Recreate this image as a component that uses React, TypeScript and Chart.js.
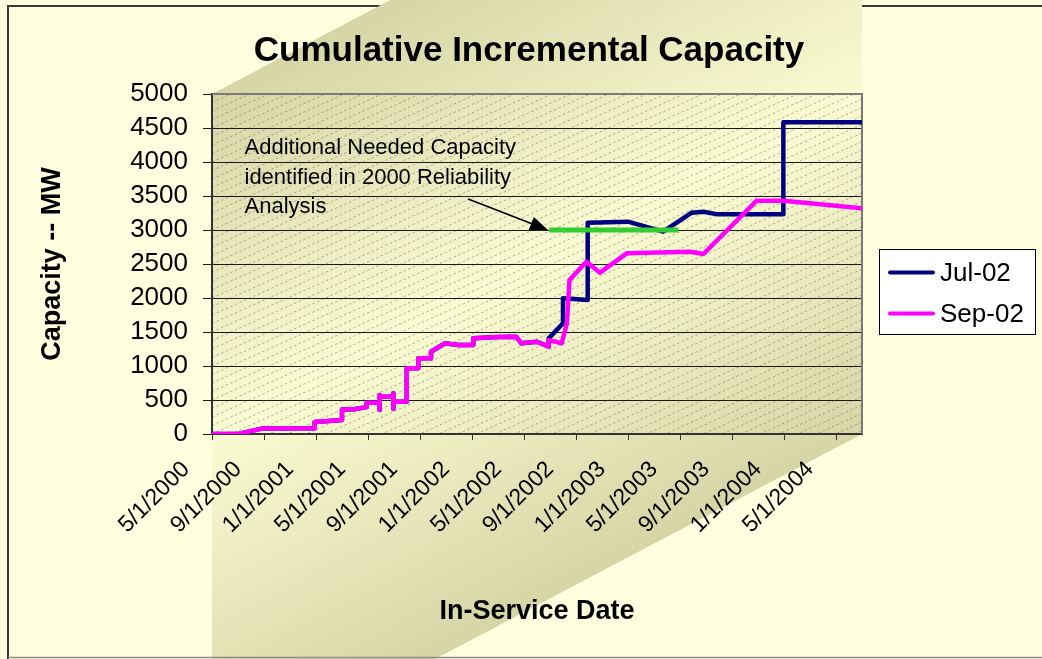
import React, { useEffect, useRef } from 'react';
import { Chart, registerables } from 'chart.js';

Chart.register(...registerables);

const FONT = "'Liberation Sans', Arial, sans-serif";

// x values are months after 5/1/2000
const xTickLabels = [
  '5/1/2000', '9/1/2000', '1/1/2001', '5/1/2001', '9/1/2001', '1/1/2002', '5/1/2002',
  '9/1/2002', '1/1/2003', '5/1/2003', '9/1/2003', '1/1/2004', '5/1/2004',
];
const yTicks = [0, 500, 1000, 1500, 2000, 2500, 3000, 3500, 4000, 4500, 5000];

const seriesNames = ['Jul-02', 'Sep-02'];
const seriesColors = ['#000080', '#FF00FF'];

const julX = [0, 2.1, 3.9, 7.9, 7.9, 10.0, 10.0, 10.9, 11.9, 11.9, 12.9, 12.9, 12.9, 12.95, 13.95, 13.95, 13.95, 14.0, 14.98, 14.98, 15.87, 15.87, 16.85, 16.85, 17.9, 18.95, 20.1, 20.1, 22.0, 23.4, 23.8, 25.0, 25.9, 25.9, 27.0, 27.0, 28.9, 28.9, 32.0, 34.7, 36.9, 37.8, 38.9, 43.95, 43.95, 50];
const julY = [0, 5, 82, 85, 178, 205, 360, 363, 395, 458, 460, 353, 574, 549, 550, 598, 370, 475, 475, 966, 966, 1113, 1113, 1210, 1333, 1309, 1309, 1407, 1425, 1431, 1333, 1357, 1284, 1407, 1628, 1995, 1970, 3108, 3122, 2975, 3254, 3269, 3230, 3230, 4584, 4584];

const sepX = [0, 2.1, 3.9, 7.9, 7.9, 10.0, 10.0, 10.9, 11.9, 11.9, 12.9, 12.9, 12.9, 12.95, 13.95, 13.95, 13.95, 14.0, 14.98, 14.98, 15.87, 15.87, 16.85, 16.85, 17.9, 18.95, 20.1, 20.1, 22.0, 23.4, 23.8, 25.0, 25.9, 25.9, 26.9, 27.3, 27.5, 28.8, 29.85, 31.9, 36.8, 37.8, 41.9, 43.95, 50];
const sepY = [0, 5, 82, 85, 178, 205, 360, 363, 395, 458, 460, 353, 574, 549, 550, 598, 370, 475, 475, 966, 966, 1113, 1113, 1210, 1333, 1309, 1309, 1407, 1425, 1431, 1333, 1357, 1284, 1380, 1334, 1628, 2265, 2534, 2373, 2657, 2681, 2647, 3431, 3431, 3319];

const neededX = [25.95, 35.87];
const neededY = [3000, 3000];

const annotLines = ['Additional Needed Capacity', 'identified in 2000 Reliability', 'Analysis'];
const annotPos = [2.5, 4205];
const arrowFrom = [19.7, 3455];
const arrowTo = [25.85, 3000];

const titleText = 'Cumulative Incremental Capacity';

const toPts = (xs: number[], ys: number[]) => xs.map((x, i) => ({ x, y: ys[i] }));

const decor = {
  id: 'decor',
  beforeDraw(chart: any) {
    const { ctx, chartArea: ca, width, height } = chart;
    const L = ca.left, R = ca.right, T = ca.top, B = ca.bottom;
    ctx.save();
    ctx.fillStyle = '#FFFFE0';
    ctx.fillRect(0, 0, width, height);
    // outer frame (left + top)
    ctx.strokeStyle = '#3a3a3a';
    ctx.lineWidth = 2;
    ctx.beginPath();
    ctx.moveTo(8, height);
    ctx.lineTo(8, 6);
    ctx.lineTo(width, 6);
    ctx.stroke();
    // shaded band
    const s = 0.527;
    ctx.beginPath();
    ctx.moveTo(L, T);
    ctx.lineTo(L + T / s, 0);
    ctx.lineTo(R, 0);
    ctx.lineTo(R, B);
    ctx.lineTo(R - (height - B) / s, height);
    ctx.lineTo(L, height);
    ctx.closePath();
    const nl = Math.sqrt(1 + s * s);
    const nx = s / nl, ny = 1 / nl;
    const dist = nx * (R - L) + ny * (B - T);
    const g = ctx.createLinearGradient(L, T, L + nx * dist, T + ny * dist);
    g.addColorStop(0, '#D6D5A6');
    g.addColorStop(0.5, '#FBFBD3');
    g.addColorStop(1, '#D6D5A6');
    ctx.fillStyle = g;
    ctx.fill();
    // bottom frame line
    ctx.strokeStyle = '#8a8a8a';
    ctx.lineWidth = 1.5;
    ctx.beginPath();
    ctx.moveTo(8, 657.5);
    ctx.lineTo(width, 657.5);
    ctx.stroke();
    // hatch in plot area
    ctx.beginPath();
    ctx.rect(L, T, R - L, B - T);
    ctx.clip();
    ctx.strokeStyle = 'rgba(95,95,75,0.6)';
    ctx.lineWidth = 0.8;
    ctx.setLineDash([2.5, 2.5]);
    const k = 0.45;
    for (let c = T; c < B + k * (R - L) + 10; c += 8.5) {
      ctx.beginPath();
      ctx.moveTo(L, c);
      ctx.lineTo(R, c - k * (R - L));
      ctx.stroke();
    }
    ctx.restore();
  },
  beforeDatasetsDraw(chart: any) {
    const { ctx, chartArea: ca } = chart;
    ctx.save();
    ctx.strokeStyle = '#7a7a7a';
    ctx.lineWidth = 2;
    ctx.beginPath();
    ctx.moveTo(ca.left, ca.top);
    ctx.lineTo(ca.right, ca.top);
    ctx.lineTo(ca.right, ca.bottom);
    ctx.stroke();
    ctx.restore();
  },
  afterDatasetsDraw(chart: any) {
    const { ctx } = chart;
    const xs = chart.scales.x, ys = chart.scales.y;
    ctx.save();
    ctx.fillStyle = '#000';
    ctx.font = `22px ${FONT}`;
    ctx.textAlign = 'left';
    ctx.textBaseline = 'middle';
    const tx = xs.getPixelForValue(annotPos[0]);
    const ty = ys.getPixelForValue(annotPos[1]);
    annotLines.forEach((l, i) => ctx.fillText(l, tx, ty + i * 29.5));
    // arrow
    const x0 = xs.getPixelForValue(arrowFrom[0]), y0 = ys.getPixelForValue(arrowFrom[1]);
    const x1 = xs.getPixelForValue(arrowTo[0]), y1 = ys.getPixelForValue(arrowTo[1]);
    const dx = x1 - x0, dy = y1 - y0, len = Math.hypot(dx, dy);
    const ux = dx / len, uy = dy / len;
    const hl = 18, hw = 7;
    ctx.strokeStyle = '#000';
    ctx.lineWidth = 1.6;
    ctx.beginPath();
    ctx.moveTo(x0, y0);
    ctx.lineTo(x1 - ux * hl, y1 - uy * hl);
    ctx.stroke();
    ctx.beginPath();
    ctx.moveTo(x1, y1);
    ctx.lineTo(x1 - ux * hl - uy * hw, y1 - uy * hl + ux * hw);
    ctx.lineTo(x1 - ux * hl + uy * hw, y1 - uy * hl - ux * hw);
    ctx.closePath();
    ctx.fill();
    ctx.restore();
  },
  afterDraw(chart: any) {
    const { ctx } = chart;
    ctx.save();
    // title
    ctx.fillStyle = '#000';
    ctx.font = `bold 35px ${FONT}`;
    ctx.textAlign = 'center';
    ctx.textBaseline = 'middle';
    ctx.fillText(titleText, 529, 51);
    // legend
    const bx = 879.5, by = 249.5, bw = 156, bh = 85;
    ctx.fillStyle = '#FFFFFF';
    ctx.fillRect(bx, by, bw, bh);
    ctx.strokeStyle = '#000';
    ctx.lineWidth = 1;
    ctx.strokeRect(bx, by, bw, bh);
    ctx.font = `26px ${FONT}`;
    ctx.textAlign = 'left';
    ctx.textBaseline = 'middle';
    seriesNames.forEach((name, i) => {
      const ly = 272.5 + i * 41;
      ctx.strokeStyle = seriesColors[i];
      ctx.lineWidth = 4;
      ctx.lineCap = 'round';
      ctx.beginPath();
      ctx.moveTo(890, ly);
      ctx.lineTo(933, ly);
      ctx.stroke();
      ctx.fillStyle = '#000';
      ctx.fillText(name, 940, ly + 1);
    });
    ctx.restore();
  },
};

export default function App() {
  const ref = useRef<HTMLCanvasElement>(null);
  useEffect(() => {
    if (!ref.current) return;
    const chart = new Chart(ref.current, {
      type: 'line',
      data: {
        datasets: [
          {
            label: 'needed',
            data: toPts(neededX, neededY),
            borderColor: '#33CC33',
            borderWidth: 5,
            pointRadius: 0,
            order: 0,
          },
          {
            label: seriesNames[1],
            data: toPts(sepX, sepY),
            borderColor: seriesColors[1],
            backgroundColor: seriesColors[1],
            borderWidth: 4.5,
            pointRadius: 0,
            tension: 0,
            borderJoinStyle: 'round',
            borderCapStyle: 'round',
            order: 1,
          },
          {
            label: seriesNames[0],
            data: toPts(julX, julY),
            borderColor: seriesColors[0],
            backgroundColor: seriesColors[0],
            borderWidth: 4.5,
            pointRadius: 0,
            tension: 0,
            borderJoinStyle: 'round',
            borderCapStyle: 'round',
            order: 2,
          },
        ],
      },
      options: {
        responsive: false,
        animation: false,
        events: [],
        layout: { padding: { left: 0, top: 94, right: 180, bottom: 0 } },
        plugins: {
          legend: { display: false },
          title: { display: false },
          tooltip: { enabled: false },
        },
        scales: {
          x: {
            type: 'linear',
            min: 0,
            max: 50,
            afterFit: (s: any) => { s.height = 225; },
            ticks: {
              stepSize: 4,
              includeBounds: false,
              autoSkip: false,
              minRotation: 45,
              maxRotation: 45,
              labelOffset: -26,
              padding: 16,
              color: '#000',
              font: { family: FONT, size: 23 },
              callback: (v: any) => xTickLabels[Math.round(Number(v) / 4)] ?? '',
            },
            grid: { drawOnChartArea: false, drawTicks: true, tickLength: 6, color: '#333', lineWidth: 1 },
            border: { display: true, color: '#333', width: 2 },
            title: {
              display: true,
              text: 'In-Service Date',
              color: '#000',
              font: { family: FONT, size: 27, weight: 'bold' },
              padding: { top: 0, bottom: 31 },
            },
          },
          y: {
            type: 'linear',
            min: yTicks[0],
            max: yTicks[yTicks.length - 1],
            afterFit: (s: any) => { s.width = 212; },
            ticks: {
              stepSize: 500,
              autoSkip: false,
              padding: 15,
              color: '#000',
              font: { family: FONT, size: 26 },
              callback: (v: any) => String(v),
            },
            grid: { color: '#1a1a1a', lineWidth: 1, tickLength: 9, drawTicks: true },
            border: { display: true, color: '#333', width: 2 },
            title: {
              display: true,
              text: 'Capacity -- MW',
              color: '#000',
              font: { family: FONT, size: 27, weight: 'bold' },
              padding: { top: 36, bottom: 0 },
            },
          },
        },
      },
      plugins: [decor],
    } as any);
    return () => chart.destroy();
  }, []);
  return (
    <div style={{ position: 'absolute', left: 0, top: 0, width: 1042, height: 659, overflow: 'hidden' }}>
      <canvas ref={ref} width={1042} height={659} style={{ display: 'block', width: 1042, height: 659 }} />
    </div>
  );
}
